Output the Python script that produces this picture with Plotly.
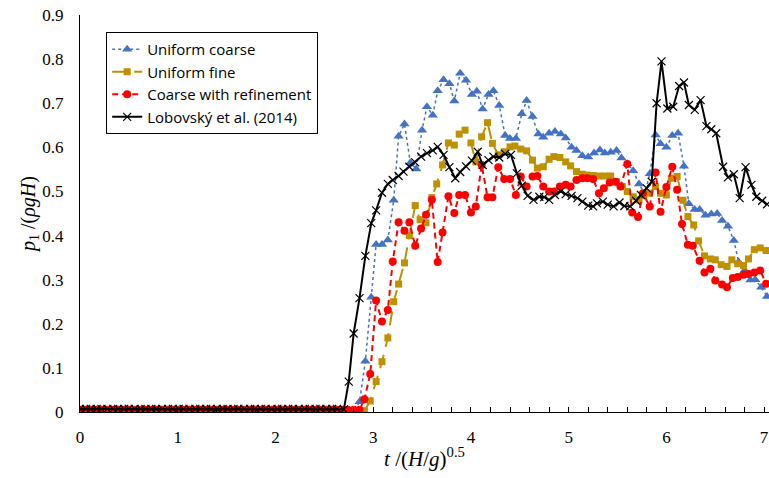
import plotly.graph_objects as go

# shared baseline sampling times (pressure ~ 0 before impact)
t_base = [0.00, 0.06, 0.11, 0.17, 0.22, 0.28, 0.34, 0.39, 0.45, 0.50, 0.56, 0.62, 0.67,
          0.73, 0.78, 0.84, 0.90, 0.95, 1.01, 1.06, 1.12, 1.18, 1.23, 1.29, 1.34, 1.40,
          1.46, 1.51, 1.57, 1.62, 1.68, 1.74, 1.79, 1.85, 1.90, 1.96, 2.02, 2.07, 2.13,
          2.18, 2.24, 2.30, 2.35, 2.41, 2.46, 2.52, 2.58, 2.63, 2.69, 2.74, 2.80, 2.86, 2.91]

# Uniform coarse
uc_t = [2.86, 2.92, 2.98, 3.03, 3.09, 3.15, 3.21, 3.26, 3.32, 3.38, 3.44, 3.50, 3.55, 3.61,
        3.66, 3.72, 3.78, 3.83, 3.89, 3.95, 4.01, 4.06, 4.12, 4.18, 4.23, 4.29, 4.35, 4.40,
        4.46, 4.52, 4.57, 4.63, 4.69, 4.74, 4.80, 4.86, 4.92, 4.97, 5.03, 5.08, 5.14, 5.20,
        5.26, 5.32, 5.37, 5.43, 5.49, 5.54, 5.60, 5.66, 5.72, 5.78, 5.83, 5.89, 5.94, 6.00,
        6.06, 6.12, 6.18, 6.23, 6.29, 6.34, 6.40, 6.46, 6.52, 6.57, 6.63, 6.69, 6.74, 6.80,
        6.86, 6.91, 6.97, 7.03]
uc_p = [0.023, 0.115, 0.260, 0.380, 0.380, 0.390, 0.480, 0.625, 0.653, 0.565, 0.551, 0.639,
        0.692, 0.673, 0.728, 0.753, 0.744, 0.705, 0.768, 0.752, 0.720, 0.727, 0.687, 0.720,
        0.728, 0.695, 0.627, 0.620, 0.620, 0.676, 0.706, 0.670, 0.630, 0.623, 0.632, 0.636,
        0.630, 0.621, 0.600, 0.593, 0.581, 0.578, 0.587, 0.594, 0.587, 0.589, 0.593, 0.576,
        0.563, 0.547, 0.517, 0.495, 0.540, 0.628, 0.608, 0.600, 0.627, 0.632, 0.557, 0.472,
        0.459, 0.459, 0.446, 0.449, 0.450, 0.434, 0.421, 0.389, 0.340, 0.321, 0.299, 0.300,
        0.283, 0.262]
uc_base = 0.000
uc_nbase = 51

# Uniform fine
uf_t = [2.97, 3.03, 3.09, 3.15, 3.21, 3.26, 3.32, 3.37, 3.43, 3.48, 3.54, 3.60, 3.65, 3.71,
        3.77, 3.83, 3.88, 3.94, 4.00, 4.05, 4.11, 4.17, 4.22, 4.28, 4.34, 4.40, 4.45, 4.51,
        4.57, 4.63, 4.68, 4.74, 4.80, 4.85, 4.91, 4.97, 5.02, 5.08, 5.14, 5.19, 5.25, 5.31,
        5.37, 5.43, 5.49, 5.55, 5.60, 5.66, 5.72, 5.77, 5.83, 5.89, 5.94, 6.00, 6.05, 6.11,
        6.17, 6.22, 6.28, 6.33, 6.39, 6.45, 6.50, 6.56, 6.62, 6.67, 6.73, 6.79, 6.84, 6.90,
        6.96, 7.02]
uf_p = [0.025, 0.069, 0.114, 0.168, 0.250, 0.290, 0.338, 0.400, 0.468, 0.436, 0.429, 0.486,
        0.517, 0.560, 0.610, 0.605, 0.630, 0.639, 0.610, 0.567, 0.624, 0.656, 0.609, 0.583,
        0.590, 0.601, 0.603, 0.596, 0.592, 0.571, 0.553, 0.556, 0.573, 0.579, 0.577, 0.567,
        0.558, 0.545, 0.539, 0.537, 0.536, 0.535, 0.535, 0.535, 0.522, 0.511, 0.500, 0.488,
        0.481, 0.492, 0.496, 0.511, 0.496, 0.492, 0.530, 0.534, 0.480, 0.443, 0.424, 0.388,
        0.354, 0.347, 0.345, 0.334, 0.330, 0.345, 0.336, 0.332, 0.347, 0.368, 0.372, 0.366]
uf_base = 0.003
uf_nbase = 53

# Coarse with refinement
cr_t = [2.91, 2.97, 3.03, 3.09, 3.15, 3.20, 3.26, 3.32, 3.37, 3.43, 3.49, 3.54, 3.60, 3.66,
        3.71, 3.77, 3.83, 3.88, 3.94, 4.00, 4.05, 4.11, 4.17, 4.22, 4.28, 4.34, 4.40, 4.46,
        4.51, 4.57, 4.63, 4.68, 4.74, 4.80, 4.85, 4.91, 4.97, 5.02, 5.08, 5.14, 5.19, 5.25,
        5.31, 5.36, 5.42, 5.48, 5.53, 5.60, 5.65, 5.71, 5.76, 5.83, 5.89, 5.94, 6.00, 6.06,
        6.11, 6.16, 6.22, 6.27, 6.34, 6.39, 6.45, 6.50, 6.57, 6.62, 6.68, 6.73, 6.79, 6.84,
        6.90, 6.96, 7.02]
cr_p = [0.029, 0.086, 0.253, 0.205, 0.231, 0.341, 0.430, 0.411, 0.430, 0.377, 0.416, 0.447,
        0.481, 0.340, 0.407, 0.489, 0.451, 0.492, 0.492, 0.452, 0.466, 0.560, 0.487, 0.487,
        0.555, 0.528, 0.528, 0.492, 0.534, 0.511, 0.534, 0.535, 0.511, 0.500, 0.500, 0.511,
        0.515, 0.511, 0.526, 0.530, 0.530, 0.528, 0.496, 0.507, 0.520, 0.522, 0.511, 0.562,
        0.452, 0.442, 0.496, 0.466, 0.543, 0.454, 0.510, 0.556, 0.504, 0.426, 0.379, 0.377,
        0.343, 0.316, 0.325, 0.298, 0.289, 0.283, 0.304, 0.306, 0.311, 0.313, 0.316, 0.321,
        0.291]
cr_base = 0.005
cr_nbase = 52

# Lobovsky et al. (2014) experiment
lb_t = [2.70, 2.75, 2.80, 2.86, 2.92, 2.98, 3.03, 3.09, 3.15, 3.20, 3.26, 3.31, 3.37, 3.43,
        3.49, 3.55, 3.61, 3.66, 3.72, 3.78, 3.84, 3.89, 3.95, 4.01, 4.07, 4.12, 4.18, 4.23,
        4.29, 4.35, 4.41, 4.47, 4.52, 4.58, 4.64, 4.70, 4.75, 4.80, 4.86, 4.92, 4.97, 5.03,
        5.09, 5.14, 5.20, 5.25, 5.29, 5.35, 5.40, 5.46, 5.52, 5.57, 5.63, 5.69, 5.74, 5.80,
        5.85, 5.90, 5.95, 6.01, 6.07, 6.13, 6.18, 6.23, 6.29, 6.35, 6.41, 6.46, 6.51, 6.58,
        6.63, 6.69, 6.75, 6.81, 6.87, 6.92, 6.98, 7.03]
lb_p = [0.006, 0.069, 0.178, 0.258, 0.354, 0.428, 0.457, 0.497, 0.517, 0.526, 0.535, 0.545,
        0.556, 0.566, 0.579, 0.587, 0.593, 0.601, 0.583, 0.555, 0.530, 0.544, 0.557, 0.570,
        0.590, 0.560, 0.571, 0.579, 0.577, 0.585, 0.583, 0.541, 0.513, 0.490, 0.481, 0.488,
        0.487, 0.481, 0.492, 0.500, 0.494, 0.490, 0.485, 0.477, 0.468, 0.466, 0.473, 0.477,
        0.470, 0.466, 0.475, 0.467, 0.466, 0.479, 0.492, 0.507, 0.522, 0.700, 0.795, 0.688,
        0.692, 0.739, 0.747, 0.696, 0.685, 0.707, 0.648, 0.641, 0.632, 0.556, 0.532, 0.539,
        0.485, 0.555, 0.515, 0.488, 0.479, 0.471]
lb_base = 0.007
lb_nbase = 48

names = ["Uniform coarse", "Uniform fine", "Coarse with refinement", "Lobovský et al. (2014)"]
colors = ["#4472C4", "#BF9000", "#FF0000", "#000000"]


def full(nbase, base, t, p):
    return t_base[:nbase] + t, [base] * nbase + p


fig = go.Figure()

x, y = full(uc_nbase, uc_base, uc_t, uc_p)
fig.add_trace(go.Scatter(x=x, y=y, name=names[0], mode="lines+markers",
                         line=dict(color=colors[0], width=1.5, dash="dot"),
                         marker=dict(symbol="triangle-up", size=9, color=colors[0])))
x, y = full(uf_nbase, uf_base, uf_t, uf_p)
fig.add_trace(go.Scatter(x=x, y=y, name=names[1], mode="lines+markers",
                         line=dict(color=colors[1], width=2, dash="14px,8px"),
                         marker=dict(symbol="square", size=7, color=colors[1])))
x, y = full(cr_nbase, cr_base, cr_t, cr_p)
fig.add_trace(go.Scatter(x=x, y=y, name=names[2], mode="lines+markers",
                         line=dict(color=colors[2], width=2, dash="6px,4px"),
                         marker=dict(symbol="circle", size=8, color=colors[2])))
x, y = full(lb_nbase, lb_base, lb_t, lb_p)
fig.add_trace(go.Scatter(x=x, y=y, name=names[3], mode="lines+markers",
                         line=dict(color=colors[3], width=2),
                         marker=dict(symbol="x-thin", size=8,
                                     line=dict(color=colors[3], width=1.2))))

serif = "Liberation Serif"
fig.update_layout(
    width=769, height=478,
    margin=dict(l=79.5, r=0, t=15, b=65.5),
    paper_bgcolor="white", plot_bgcolor="white",
    showlegend=True,
    legend=dict(x=0.038, y=0.957, xanchor="left", yanchor="top",
                bgcolor="white", bordercolor="#000000", borderwidth=1,
                font=dict(family="Open Sans", size=15, color="#000000"),
                itemwidth=30, tracegroupgap=0),
    font=dict(family=serif, size=17, color="#000000"),
)
fig.update_xaxes(range=[0, 7.05], dtick=1, tick0=0, showgrid=False, zeroline=False,
                 showline=True, linecolor="#000000", linewidth=1,
                 ticks="inside", ticklen=5, tickcolor="#000000",
                 minor=dict(dtick=0.2, ticks="inside", ticklen=5, tickcolor="#000000"),
                 ticklabelstandoff=10, ticklabeloverflow="allow",
                 tickfont=dict(family=serif, size=17),
                 title=dict(text="<i>t</i> /(<i>H</i>/<i>g</i>)<sup>0.5</sup>",
                            font=dict(family=serif, size=21), standoff=4))
fig.update_yaxes(range=[0, 0.9], dtick=0.1, showgrid=False, zeroline=False,
                 showline=True, linecolor="#000000", linewidth=1,
                 ticks="", ticklabelstandoff=12,
                 tickfont=dict(family=serif, size=17),
                 title=dict(text="<i>p</i><sub>1</sub> /(<i>ρgH</i>)",
                            font=dict(family=serif, size=20), standoff=0))

fig.write_html("out.html")
